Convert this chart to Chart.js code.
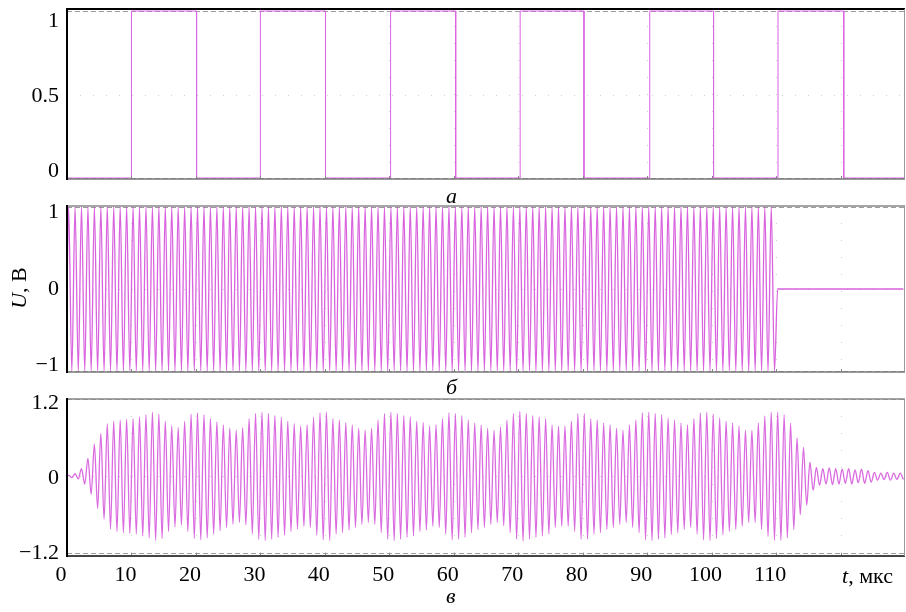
<!DOCTYPE html>
<html><head><meta charset="utf-8">
<script src="https://cdn.jsdelivr.net/npm/chart.js@4/dist/chart.umd.min.js"></script>
<style>
html,body{margin:0;padding:0;background:#fff;}
#wrap{position:relative;width:906px;height:612px;overflow:hidden;font-family:"Liberation Serif","Times New Roman",serif;color:#000;}
canvas{position:absolute;left:0;}
.t{position:absolute;font-size:22px;line-height:22px;white-space:nowrap;}
.i{font-style:italic;}
</style></head><body>
<div id="wrap">
<canvas id="ca" width="906" height="192" style="top:0px"></canvas>
<canvas id="cb" width="906" height="190" style="top:192px"></canvas>
<canvas id="cc" width="906" height="230" style="top:382px"></canvas>
<div class="t i" style="left:446px;top:185px;">а</div>
<div class="t i" style="left:446px;top:376px;">б</div>
<div class="t i" style="left:446px;top:585px;">в</div>
<div class="t" style="left:842px;top:565px;"><span class="i">t</span>, мкс</div>
<div class="t" style="left:-31px;top:277px;width:100px;text-align:center;transform:rotate(-90deg);"><span class="i">U</span>, В</div>
</div>
<script>
// ---------- data ----------
const timeRange = [0, 130];
const xTickValues = [0, 10, 20, 30, 40, 50, 60, 70, 80, 90, 100, 110];
const gridTimes = [10, 20, 30, 40, 50, 60, 70, 80, 90, 100, 110, 120];

// panel а: square wave switching times (µs), starts at level 0
const squareEdges = [10.0, 20.1, 30.0, 40.1, 50.2, 60.3, 70.3, 80.2, 90.4, 100.3, 110.3, 120.5];
const yTicksA = [0, 0.5, 1];
const yLabelsA = ['0', '0.5', '1'];

// panel б: carrier amplitude for each 1-µs carrier period (k = 0..129)
const ampB = [
  1,1,1,1,1,1,1,1,1,1, 1,1,1,1,1,1,1,1,1,1,
  1,1,1,1,1,1,1,1,1,1, 1,1,1,1,1,1,1,1,1,1,
  1,1,1,1,1,1,1,1,1,1, 1,1,1,1,1,1,1,1,1,1,
  1,1,1,1,1,1,1,1,1,1, 1,1,1,1,1,1,1,1,1,1,
  1,1,1,1,1,1,1,1,1,1, 1,1,1,1,1,1,1,1,1,1,
  1,1,1,1,1,1,1,1,1,1, 0,0,0,0,0,0,0,0,0,0,
  0,0,0,0,0,0,0,0,0,0
];
const yTicksB = [-1, 0, 1];
const yLabelsB = ['\u22121', '0', '1'];

// panel в: response envelope for each 1-µs carrier period (k = 0..129)
const envC = [
  0.02,0.04,0.12,0.28,0.50,0.67,0.82,0.86,0.88,0.89,
  0.90,0.93,0.96,1.00,0.97,0.86,0.79,0.76,0.86,0.97,
  0.99,0.96,0.90,0.85,0.80,0.75,0.72,0.76,0.90,0.98,
  1.00,0.98,0.95,0.92,0.86,0.82,0.78,0.80,0.92,0.99,
  1.00,0.90,0.88,0.84,0.80,0.75,0.72,0.75,0.88,0.98,
  1.00,0.98,0.95,0.93,0.86,0.84,0.78,0.80,0.90,0.99,
  0.98,0.95,0.88,0.83,0.80,0.75,0.72,0.77,0.88,0.98,
  1.01,0.98,0.95,0.93,0.90,0.80,0.78,0.78,0.86,0.98,
  0.98,0.90,0.88,0.83,0.80,0.75,0.72,0.80,0.88,0.99,
  1.00,0.98,0.96,0.91,0.88,0.83,0.80,0.90,0.99,1.00,
  0.97,0.91,0.86,0.83,0.78,0.72,0.72,0.83,0.94,1.00,
  1.00,0.96,0.83,0.60,0.45,0.22,0.14,0.12,0.13,0.12,
  0.11,0.12,0.10,0.11,0.09,0.06,0.05,0.06,0.05,0.05
];
const yTicksC = [-1.2, 0, 1.2];
const yLabelsC = ['\u22121.2', '0', '1.2'];

// ---------- build series from the arrays ----------
function squarePoints(edges) {
  const pts = [{x: timeRange[0], y: 0}];
  edges.forEach((t, i) => {
    const before = i % 2 === 0 ? 0 : 1;
    pts.push({x: t, y: before}, {x: t, y: 1 - before});
  });
  pts.push({x: timeRange[1], y: edges.length % 2 === 0 ? 0 : 1});
  return pts;
}
function carrierPoints(amps) {
  const pts = [{x: 0, y: 0}];
  amps.forEach((a, k) => {
    pts.push({x: k + 0.25, y: a}, {x: k + 0.75, y: -a});
  });
  return pts;
}

// ---------- drawing helpers ----------
const SERIF = '"Liberation Serif", "Times New Roman", serif';

const framePlugin = {
  id: 'frame',
  beforeDatasetsDraw(chart, args, o) {
    const {ctx, chartArea: ca, scales} = chart;
    const xs = scales.x, ys = scales.y;
    const hl = (py) => { ctx.beginPath(); ctx.moveTo(ca.left, py); ctx.lineTo(ca.right, py); ctx.stroke(); };
    ctx.save();
    ctx.lineWidth = 1;
    ctx.strokeStyle = '#cfcfcf';
    ctx.setLineDash([1, 16]);
    gridTimes.forEach(t => {
      const px = Math.round(xs.getPixelForValue(t)) + 0.5;
      ctx.beginPath(); ctx.moveTo(px, ca.top); ctx.lineTo(px, ca.bottom); ctx.stroke();
    });
    ctx.setLineDash([1, 12]);
    (o.dotted || []).forEach(v => hl(Math.round(ys.getPixelForValue(v)) + 0.5));
    ctx.strokeStyle = '#9c9c9c';
    ctx.setLineDash([5, 3]);
    (o.dashed || []).forEach(v => hl(Math.round(ys.getPixelForValue(v)) + 0.5));
    ctx.restore();
  },
  afterDatasetsDraw(chart, args, o) {
    const {ctx, chartArea: ca, scales} = chart;
    const xs = scales.x;
    ctx.save();
    ctx.setLineDash([]);
    ctx.strokeStyle = '#888'; ctx.lineWidth = 1;
    gridTimes.forEach(t => {
      const px = Math.round(xs.getPixelForValue(t)) + 0.5;
      ctx.beginPath(); ctx.moveTo(px, ca.bottom); ctx.lineTo(px, ca.bottom - 3); ctx.stroke();
    });
    ctx.strokeStyle = o.topColor || '#777'; ctx.lineWidth = o.topWidth || 1.5;
    ctx.beginPath(); ctx.moveTo(ca.left, ca.top); ctx.lineTo(ca.right, ca.top); ctx.stroke();
    ctx.strokeStyle = o.bottomColor || '#777'; ctx.lineWidth = o.bottomWidth || 1.5;
    ctx.beginPath(); ctx.moveTo(ca.left, ca.bottom); ctx.lineTo(ca.right, ca.bottom); ctx.stroke();
    ctx.strokeStyle = '#999'; ctx.lineWidth = 1;
    ctx.beginPath(); ctx.moveTo(ca.right - 0.5, ca.top); ctx.lineTo(ca.right - 0.5, ca.bottom); ctx.stroke();
    ctx.strokeStyle = '#000'; ctx.lineWidth = 2;
    ctx.beginPath(); ctx.moveTo(ca.left, ca.top - 1); ctx.lineTo(ca.left, ca.bottom + 1); ctx.stroke();
    ctx.restore();
  }
};

function makeChart(id, cfg) {
  const scales = {
    x: {
      type: 'linear', min: timeRange[0], max: timeRange[1],
      display: !!cfg.showX,
      afterBuildTicks: s => { s.ticks = xTickValues.map(v => ({value: v})); },
      ticks: {
        autoSkip: false, maxRotation: 0, color: '#000', padding: 6, labelOffset: -6,
        font: {family: SERIF, size: 22},
        callback: v => String(v)
      },
      grid: {display: false, drawTicks: false},
      border: {display: false},
      afterFit: s => { s.height = cfg.xHeight || 0; s.paddingLeft = 0; s.paddingRight = 0; }
    },
    y: {
      type: 'linear', min: cfg.yMin, max: cfg.yMax, display: false
    },
    yl: {
      type: 'linear', position: 'left', min: cfg.lMin, max: cfg.lMax,
      afterBuildTicks: s => { s.ticks = cfg.ticks.map(v => ({value: v})); },
      ticks: {
        color: '#000', padding: 8, font: {family: SERIF, size: 22},
        callback: (v, i) => cfg.labels[i]
      },
      grid: {display: false, drawTicks: false},
      border: {display: false},
      afterFit: s => { s.width = 67; s.paddingTop = 0; s.paddingBottom = 0; }
    }
  };
  return new Chart(document.getElementById(id), {
    type: 'line',
    data: {
      datasets: [{
        data: cfg.data, yAxisID: 'y', xAxisID: 'x',
        borderColor: cfg.color, borderWidth: cfg.lw || 1, pointRadius: 0,
        cubicInterpolationMode: cfg.smooth ? 'monotone' : 'default', tension: 0,
        fill: false, spanGaps: true
      }]
    },
    options: {
      responsive: false, animation: false, events: [],
      devicePixelRatio: 1,
      layout: {padding: cfg.padding},
      scales,
      plugins: {
        legend: {display: false}, tooltip: {enabled: false},
        frame: cfg.frame
      }
    },
    plugins: [framePlugin]
  });
}

makeChart('ca', {
  data: squarePoints(squareEdges), color: 'rgb(220, 100, 228)',
  yMin: -0.006, yMax: 1.012, lMin: -0.0533, lMax: 1.08,
  ticks: yTicksA, labels: yLabelsA,
  padding: {top: 9, right: 1, bottom: 13, left: 0},
  frame: {dashed: [0, 1], dotted: [0.5], topColor: '#000', topWidth: 2, bottomColor: '#777'}
});
makeChart('cb', {
  data: carrierPoints(ampB), color: 'rgba(210, 70, 216, 0.85)', lw: 1.3, smooth: true,
  yMin: -1.012, yMax: 1.012, lMin: -1.092, lMax: 1.088,
  ticks: yTicksB, labels: yLabelsB,
  padding: {top: 14, right: 1, bottom: 10, left: 0},
  frame: {dashed: [-1, 1], dotted: [0], topColor: '#888', bottomColor: '#777'}
});
makeChart('cc', {
  data: carrierPoints(envC), color: 'rgba(212, 80, 218, 0.85)', lw: 1.3, smooth: true, showX: true, xHeight: 56,
  yMin: -1.242, yMax: 1.205, lMin: -1.243, lMax: 1.269,
  ticks: yTicksC, labels: yLabelsC,
  padding: {top: 17, right: 1, bottom: 0, left: 0},
  frame: {dashed: [-1.2, 1.2], dotted: [0], topColor: '#888', bottomColor: '#444', bottomWidth: 2}
});
</script>
</body></html>
